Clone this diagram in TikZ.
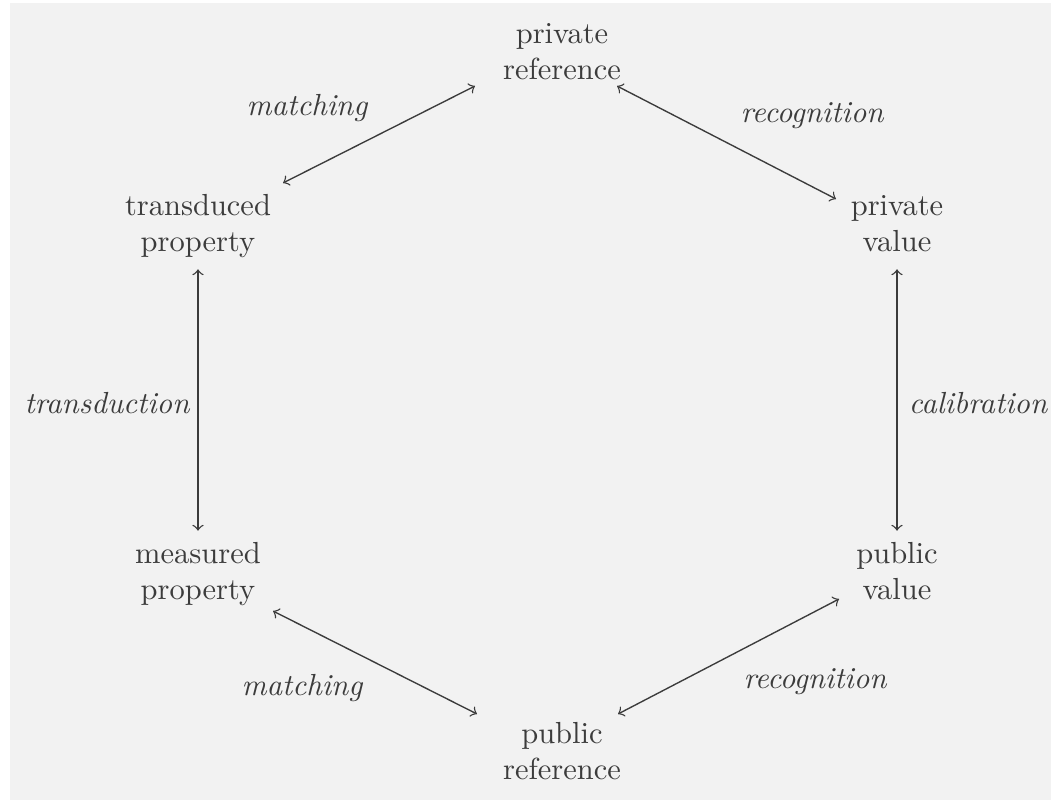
\documentclass[tikz,border=0pt]{standalone}
\begin{document}
\definecolor{panel}{HTML}{F2F2F2}
\definecolor{ink}{HTML}{3C3C3C}
\begin{tikzpicture}[x=0.328pt,y=-0.328pt,
  stage/.style={align=center,text=ink,inner xsep=5pt,inner ysep=2pt},
  rel/.style={font=\itshape,text=ink},
  link/.style={<->,draw=ink,line width=0.45pt}]
  \useasboundingbox (0,0) rectangle (1051,803);
  \fill[white] (0,0) rectangle (1051,803);
  \fill[panel] (10,3) rectangle (1051,800);

  % the six stages of the cycle
  \node[stage] (privref) at (562,54)  {\strut private\\\strut reference};
  \node[stage] (transd)  at (198,226) {\strut transduced\\\strut property};
  \node[stage] (privval) at (897,226) {\strut private\\\strut value};
  \node[stage] (meas)    at (198,574) {\strut measured\\\strut property};
  \node[stage] (pubval)  at (897,574) {\strut public\\\strut value};
  \node[stage] (pubref)  at (562,754) {\strut public\\\strut reference};

  % relations between neighbouring stages
  \draw[link] ([shift={(85,-43)}]transd.center) -- ([shift={(-87,32)}]privref.center);
  \draw[link] ([shift={(55,32)}]privref.center) -- ([shift={(-61,-27)}]privval.center);
  \draw[link] (meas) -- (transd);
  \draw[link] (privval) -- (pubval);
  \draw[link] ([shift={(75,37)}]meas.center) -- ([shift={(-85,-40)}]pubref.center);
  \draw[link] ([shift={(56,-40)}]pubref.center) -- ([shift={(-58,25)}]pubval.center);

  \node[rel] (l1) at (307,108) {matching};
  \node[rel] (l2) at (812,116) {recognition};
  \node[rel] (l3) at (107,403) {transduction};
  \node[rel] (l4) at (978,403) {calibration};
  \node[rel] (l5) at (302,688) {matching};
  \node[rel] (l6) at (815,682) {recognition};
\end{tikzpicture}
\end{document}
